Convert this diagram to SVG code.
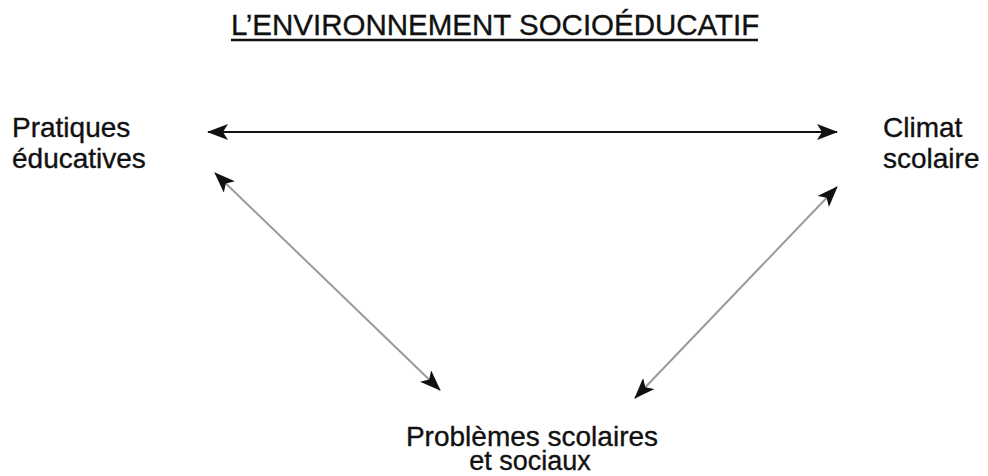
<svg xmlns="http://www.w3.org/2000/svg" width="988" height="476" viewBox="0 0 988 476">
<style>
text{font-family:"Liberation Sans",Arial,sans-serif;fill:#111;stroke:#111;stroke-width:0.35px}
.lbl{font-size:28px}
.small{font-size:27px}
.title{font-size:29.5px}
.black{stroke:#111;stroke-width:2.2;fill:none}
.gray{stroke:#9a9a9a;stroke-width:2;fill:none}
</style>
<defs>
<marker id="ah" viewBox="0 0 21 16" refX="20" refY="8" markerWidth="21" markerHeight="16" markerUnits="userSpaceOnUse" orient="auto-start-reverse">
<path d="M21,8 L0,0 L5,8 L0,16 Z" fill="#111"/>
</marker>
</defs>
<rect width="988" height="476" fill="#fff"/>
<g id="title">
<text class="title" x="231" y="35">L’ENVIRONNEMENT SOCIOÉDUCATIF</text>
<line x1="231" y1="40" x2="758" y2="40" stroke="#111" stroke-width="2.5"/>
</g>
<g id="pratiques">
<text class="lbl" x="12" y="137">Pratiques</text>
<text class="lbl" x="12" y="168">éducatives</text>
</g>
<g id="climat">
<text class="lbl" x="883" y="137">Climat</text>
<text class="lbl" x="883" y="168">scolaire</text>
</g>
<g id="problemes">
<text class="lbl" x="532" y="446" text-anchor="middle">Problèmes scolaires</text>
<text class="small" x="530" y="470" text-anchor="middle">et sociaux</text>
</g>
<g id="connectors">
<line class="black" x1="208" y1="132" x2="837" y2="132" marker-start="url(#ah)" marker-end="url(#ah)"/>
<line class="gray" x1="215" y1="173" x2="440" y2="390" marker-start="url(#ah)" marker-end="url(#ah)"/>
<line class="gray" x1="837" y1="187" x2="635" y2="398" marker-start="url(#ah)" marker-end="url(#ah)"/>
</g>
</svg>
